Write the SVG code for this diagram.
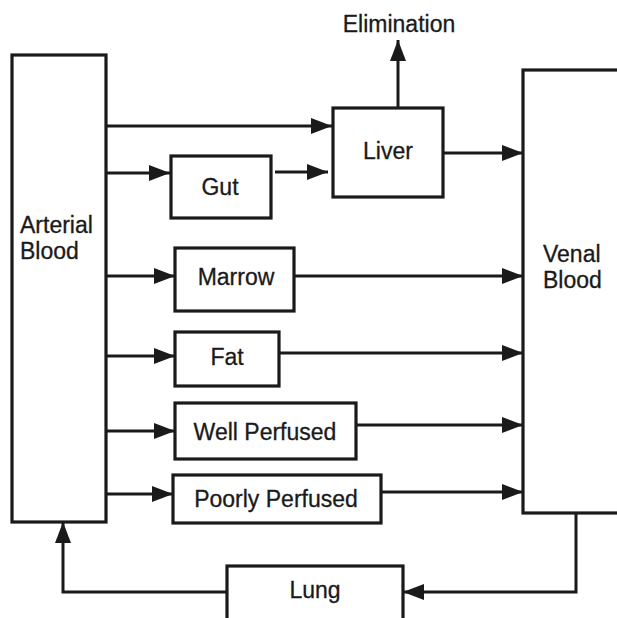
<svg xmlns="http://www.w3.org/2000/svg" width="617" height="618" viewBox="0 0 617 618">
<style>
.box{fill:#fff;stroke:#1a1a1a;stroke-width:3.2}
.ln{fill:none;stroke:#1a1a1a;stroke-width:3;marker-end:url(#ah)}
text{font-family:"Liberation Sans",Arial,sans-serif;font-size:23px;fill:#1a1a1a;stroke:#1a1a1a;stroke-width:0.3}
.c{text-anchor:middle}
</style>
<defs>
<marker id="ah" markerUnits="userSpaceOnUse" markerWidth="22" markerHeight="16" viewBox="0 0 22 16" refX="21" refY="8" orient="auto">
<path d="M0,0 L21,8 L0,16 Z" fill="#1a1a1a"/>
</marker>
</defs>
<g id="connectors">
<line class="ln" x1="106" y1="126" x2="332" y2="126"/>
<line class="ln" x1="106" y1="173" x2="170" y2="173"/>
<line class="ln" x1="275" y1="172" x2="328" y2="172"/>
<line class="ln" x1="443" y1="153" x2="523" y2="153"/>
<line class="ln" x1="398" y1="108" x2="398" y2="40"/>
<line class="ln" x1="106" y1="276" x2="175" y2="276"/>
<line class="ln" x1="294" y1="276" x2="523" y2="276"/>
<line class="ln" x1="106" y1="356" x2="175" y2="356"/>
<line class="ln" x1="279" y1="353" x2="523" y2="353"/>
<line class="ln" x1="106" y1="431" x2="175" y2="431"/>
<line class="ln" x1="356" y1="425" x2="523" y2="425"/>
<line class="ln" x1="106" y1="494" x2="173" y2="494"/>
<line class="ln" x1="381" y1="492" x2="523" y2="492"/>
<polyline class="ln" points="227,592 63,592 63,522"/>
<polyline class="ln" points="576,513 576,592 403,592"/>
</g>
<g id="arterial">
<rect class="box" x="12" y="55" width="94" height="467"/>
<text x="20" y="233">Arterial</text>
<text x="20" y="259">Blood</text>
</g>
<g id="venal">
<rect class="box" x="523" y="70" width="130" height="443"/>
<text x="543" y="262">Venal</text>
<text x="543" y="288">Blood</text>
</g>
<g id="gut">
<rect class="box" x="171" y="156" width="100" height="62"/>
<text class="c" x="220" y="195">Gut</text>
</g>
<g id="liver">
<rect class="box" x="333" y="108" width="110" height="89"/>
<text class="c" x="388" y="159">Liver</text>
</g>
<g id="elimination">
<text class="c" x="399" y="32">Elimination</text>
</g>
<g id="marrow">
<rect class="box" x="175" y="248" width="119" height="63"/>
<text class="c" x="236" y="285">Marrow</text>
</g>
<g id="fat">
<rect class="box" x="175" y="332" width="104" height="54"/>
<text class="c" x="227" y="365">Fat</text>
</g>
<g id="well">
<rect class="box" x="175" y="403" width="181" height="56"/>
<text class="c" x="265" y="440">Well Perfused</text>
</g>
<g id="poorly">
<rect class="box" x="173" y="475" width="208" height="48"/>
<text class="c" x="276" y="507">Poorly Perfused</text>
</g>
<g id="lung">
<rect class="box" x="227" y="566" width="176" height="70"/>
<text class="c" x="315" y="598">Lung</text>
</g>
</svg>
